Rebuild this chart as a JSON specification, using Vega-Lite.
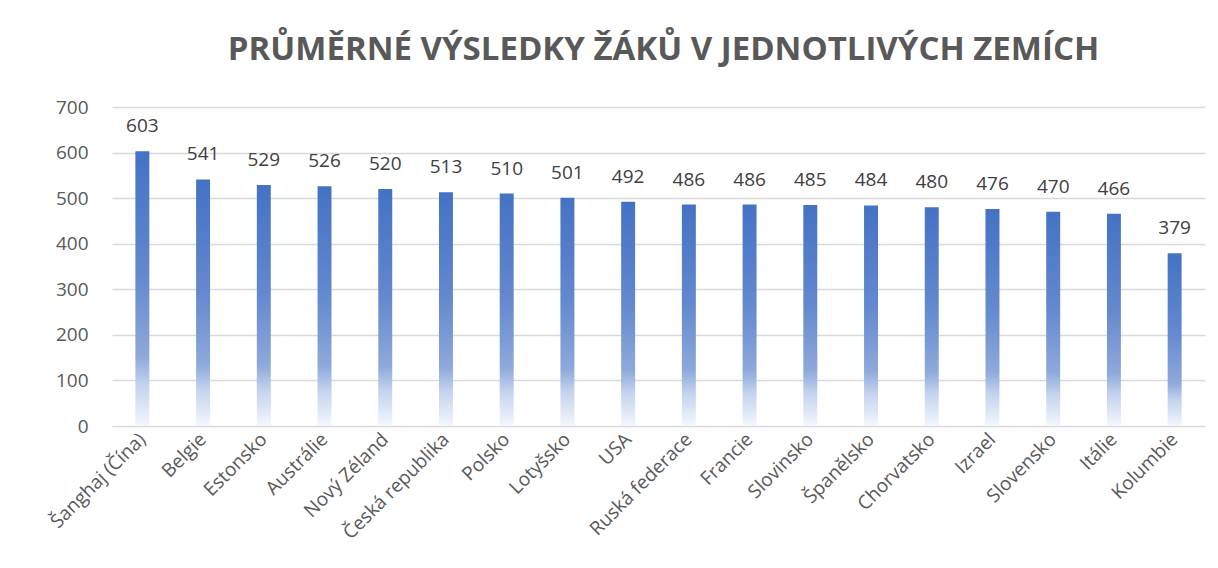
{
  "$schema": "https://vega.github.io/schema/vega-lite/v6.json",
  "autosize": "none",
  "width": 1093,
  "height": 319,
  "padding": {"left": 112, "top": 107, "right": 13, "bottom": 142},
  "background": "white",
  "title": {
    "text": "PRŮMĚRNÉ VÝSLEDKY ŽÁKŮ V JEDNOTLIVÝCH ZEMÍCH",
    "font": "Open Sans",
    "fontSize": 33,
    "fontWeight": "bold",
    "color": "#595959",
    "anchor": "middle",
    "dx": 5,
    "offset": 31
  },
  "data": {
    "values": [
      {"zeme": "Šanghaj (Čína)", "skore": 603},
      {"zeme": "Belgie", "skore": 541},
      {"zeme": "Estonsko", "skore": 529},
      {"zeme": "Austrálie", "skore": 526},
      {"zeme": "Nový Zéland", "skore": 520},
      {"zeme": "Česká republika", "skore": 513},
      {"zeme": "Polsko", "skore": 510},
      {"zeme": "Lotyšsko", "skore": 501},
      {"zeme": "USA", "skore": 492},
      {"zeme": "Ruská federace", "skore": 486},
      {"zeme": "Francie", "skore": 486},
      {"zeme": "Slovinsko", "skore": 485},
      {"zeme": "Španělsko", "skore": 484},
      {"zeme": "Chorvatsko", "skore": 480},
      {"zeme": "Izrael", "skore": 476},
      {"zeme": "Slovensko", "skore": 470},
      {"zeme": "Itálie", "skore": 466},
      {"zeme": "Kolumbie", "skore": 379}
    ]
  },
  "encoding": {
    "x": {
      "field": "zeme",
      "type": "nominal",
      "sort": null,
      "scale": {"paddingInner": 0.77, "paddingOuter": 0.385},
      "axis": {
        "title": null,
        "labelAngle": -45,
        "labelAlign": "right",
        "labelBaseline": "middle",
        "labelFont": "Open Sans",
        "labelFontSize": 19,
        "labelColor": "#595959",
        "labelPadding": 10,
        "labelOverlap": false,
        "ticks": false,
        "domain": false
      }
    },
    "y": {
      "field": "skore",
      "type": "quantitative",
      "scale": {"domain": [0, 700], "nice": false},
      "axis": {
        "title": null,
        "values": [0, 100, 200, 300, 400, 500, 600, 700],
        "labelFont": "Open Sans",
        "labelFontSize": 19,
        "labelColor": "#595959",
        "labelPadding": 24,
        "ticks": false,
        "domain": false,
        "gridColor": "#d9d9d9",
        "gridWidth": 1.5
      }
    }
  },
  "layer": [
    {
      "mark": {
        "type": "bar",
        "color": {
          "gradient": "linear",
          "x1": 0, "y1": 0, "x2": 0, "y2": 1,
          "stops": [
            {"offset": 0, "color": "#4472C4"},
            {"offset": 0.45, "color": "#6388CE"},
            {"offset": 0.75, "color": "#8EA9DB"},
            {"offset": 0.85, "color": "#C3D2EE"},
            {"offset": 1, "color": "#F4F7FC"}
          ]
        }
      }
    },
    {
      "mark": {
        "type": "text",
        "dy": -25,
        "font": "Open Sans",
        "fontSize": 19,
        "color": "#404040"
      },
      "encoding": {"text": {"field": "skore", "type": "quantitative"}}
    }
  ],
  "config": {"view": {"stroke": null}}
}
